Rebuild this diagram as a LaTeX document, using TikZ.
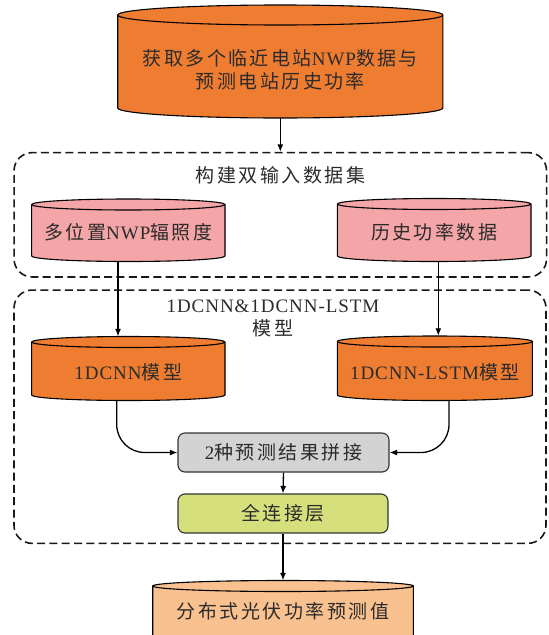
\documentclass[tikz,border=0pt]{standalone}
\usepackage{fontspec}
\setmainfont{Liberation Serif}[LetterSpace=5]
\newfontfamily\cjk{Noto Sans CJK SC}[LetterSpace=13]
\usetikzlibrary{arrows.meta,calc}
\definecolor{orng}{HTML}{EE7D31}
\definecolor{pnk}{HTML}{F4A5A7}
\definecolor{graybox}{HTML}{D3D3D3}
\definecolor{fcgreen}{HTML}{D5E07C}
\definecolor{lorng}{HTML}{FAC190}
\definecolor{txt}{HTML}{2B2B2B}
% name, cx, half width, top centre y, bottom centre y, ellipse ry, fill, text y, text
\newcommand\drum[9]{%
 \filldraw[drumline,fill=#7] ({#2-#3},-#4) -- ({#2-#3},-#5) arc[start angle=180,end angle=360,x radius=#3,y radius=#6] -- ({#2+#3},-#4) arc[start angle=0,end angle=180,x radius=#3,y radius=#6] -- cycle;
 \draw[drumline] ({#2-#3},-#4) arc[start angle=180,end angle=360,x radius=#3,y radius=#6];
 \node[inner sep=0,minimum width={2*#3},minimum height={#5-#4+2*#6}] (#1) at (#2,{-(#4+#5)/2}) {};
 \node[align=center] (#1-t) at (#2,-#8) {#9};
}
\begin{document}
\begin{tikzpicture}[x=1pt,y=1pt,
  every node/.style={font=\fontsize{19}{23}\selectfont, text=txt},
  drumline/.style={draw=black,line width=1.1pt},
  arr/.style={draw=black,line width=1.3pt,-{Latex[length=7.5pt,width=6pt]}},
  dashbox/.style={draw=black!90,line width=1.6pt,dash pattern=on 8pt off 4.3pt,rounded corners=18pt,inner sep=0},
  procbox/.style={draw=black!80,line width=1.1pt,rounded corners=7pt,minimum width=211pt,minimum height=39pt,inner sep=0}
]
\useasboundingbox (0,0) rectangle (549,-635);
\fill[white] (0,0) rectangle (549,-635);
\clip (0,0) rectangle (549,-635);

% dashed group boxes
\node[dashbox,minimum width=532.5pt,minimum height=124.3pt] (g1) at (280.3,-214.8) {};
\node[dashbox,minimum width=532pt,minimum height=253.3pt] (g2) at (280,-416.7) {};

% group titles
\node (t1) at (280.5,-175) {\cjk 构建双输入数据集};
\node[align=center] (t2) at (273,-318.5) {1DCNN\&1DCNN-LSTM\\{\cjk 模型}};

% cylinders
\drum{top}{280.3}{162.6}{15}{108}{10}{orng}{69.5}{{\cjk 获取多个临近电站}NWP{\cjk 数据与}\\{\cjk 预测电站历史功率}}
\drum{pa}{128.3}{96.7}{204.5}{256}{5.5}{pnk}{232.7}{{\cjk 多位置}NWP{\cjk 辐照度}}
\drum{pb}{434.2}{96.8}{204}{256}{5.5}{pnk}{232.7}{\cjk 历史功率数据}
\drum{oa}{128.3}{96.7}{342}{395}{5.5}{orng}{372.7}{1DCNN{\cjk 模型}}
\drum{ob}{434.8}{97.5}{341.5}{395}{5.5}{orng}{372.7}{1DCNN-LSTM{\cjk 模型}}
\drum{fin}{283}{130.3}{586}{641}{5.5}{lorng}{611.7}{\cjk 分布式光伏功率预测值}

% process boxes
\node[procbox,fill=graybox] (cat) at (283.5,-452.5) {2{\cjk 种预测结果拼接}};
\node[procbox,fill=fcgreen,minimum width=210pt] (fc) at (283,-513.5) {\cjk 全连接层};

% connectors
\draw[arr] (top.south) -- (top.south |- g1.north);
\draw[arr] ([xshift=-10.3pt]pa.south) -- ([xshift=-10.3pt]pa.south |- oa.north);
\draw[arr] ([xshift=4.1pt]pb.south) -- ([xshift=4.1pt]pb.south |- ob.north);
\draw[arr,rounded corners=28pt] ([xshift=-11.6pt]oa.south) |- (cat.west);
\draw[arr,rounded corners=28pt] ([xshift=14.2pt]ob.south) |- (cat.east);
\draw[arr] (cat.south) -- (fc.north);
\draw[arr] (fc.south) -- (fin.north);
\end{tikzpicture}
\end{document}
